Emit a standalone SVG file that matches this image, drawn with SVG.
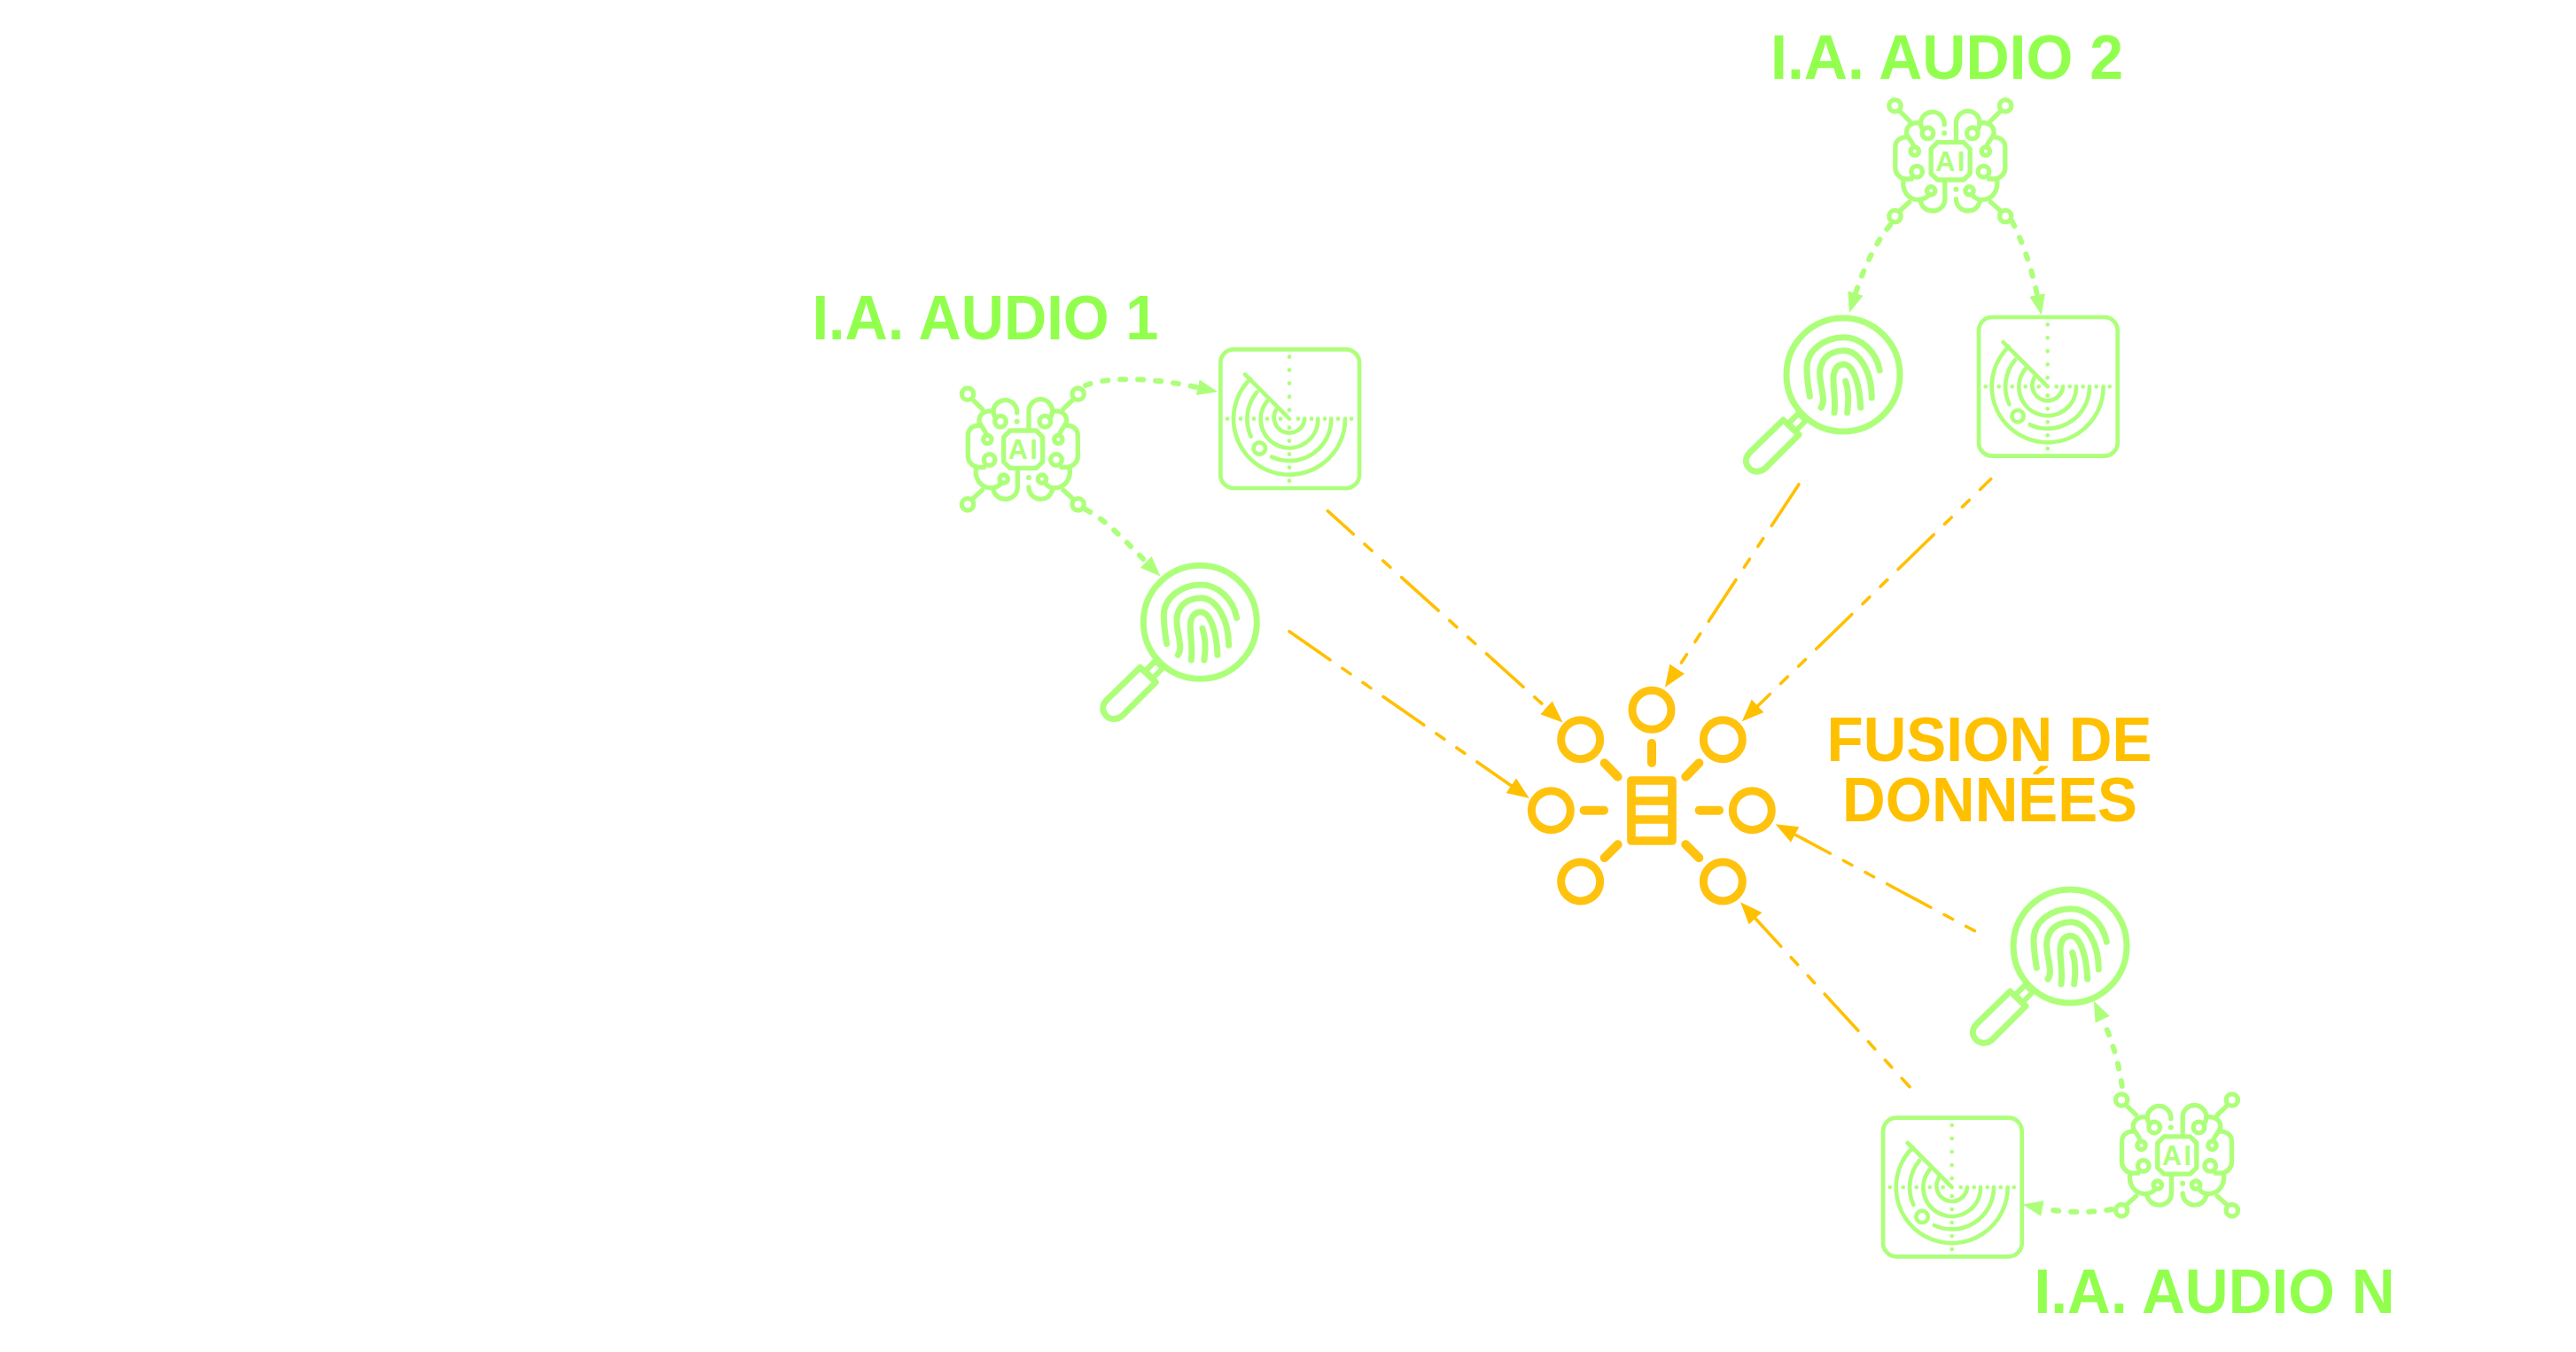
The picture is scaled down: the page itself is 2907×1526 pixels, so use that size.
<svg xmlns="http://www.w3.org/2000/svg" width="2907" height="1526" viewBox="0 0 2907 1526">
<style>
text{font-family:"Liberation Sans",Arial,sans-serif;font-weight:700}
.lg{font-size:70.5px;fill:#92FF4F;text-anchor:middle}
.lo{font-size:71px;fill:#FFC000;text-anchor:middle}
.ai{font-size:30.5px;fill:#ADFF7A;text-anchor:middle;letter-spacing:2.5px}
.ic{fill:none;stroke:#ADFF7A;stroke-linecap:round;stroke-linejoin:round}
.dot{fill:#ADFF7A}
.hub{fill:none;stroke:#FFC20E;stroke-linecap:round;stroke-linejoin:round}
.d{fill:none;stroke:#FFC000;stroke-width:3.6;stroke-linecap:round;stroke-dasharray:56 17 11 17 11 17;marker-end:url(#ao)}
.g{fill:none;stroke:#ADFF7A;stroke-width:6;stroke-linecap:round;stroke-dasharray:6 14;marker-end:url(#ag)}
</style>
<defs>
<marker id="ao" markerUnits="userSpaceOnUse" markerWidth="26" markerHeight="22" refX="0" refY="10" orient="auto"><path d="M0 0L25 10L0 20Z" fill="#FFC000"/></marker>
<marker id="ag" markerUnits="userSpaceOnUse" markerWidth="24" markerHeight="20" refX="0" refY="9" orient="auto"><path d="M0 0L23 9L0 18Z" fill="#ADFF7A"/></marker>
<g id="aiI" transform="scale(.3333) translate(-283 -261)">
<g class="ic" stroke-width="16">
<circle cx="96" cy="74" r="20"/><circle cx="470" cy="74" r="20"/><circle cx="96" cy="448" r="20"/><circle cx="470" cy="448" r="20"/>
<path d="M110 90L145 125M456 90L420 125M110 432L145 400M456 432L420 400"/>
<path d="M240 198H328L350 220V304L328 325H240L218 304V220Z"/>
<circle cx="207" cy="167" r="19"/><circle cx="358" cy="167" r="19"/>
<circle cx="163" cy="228" r="14"/><circle cx="403" cy="228" r="14"/>
<circle cx="170" cy="297" r="19"/><circle cx="396" cy="297" r="19"/>
<circle cx="218" cy="362" r="14"/><circle cx="348" cy="362" r="14"/>
<path d="M263 138A40 40 0 0 0 183 132C183 142 186 150 192 156"/>
<path d="M183 132C150 128 135 145 135 165C135 180 152 188 160 212"/>
<path d="M140 180C110 180 97 195 97 215V285C97 305 115 322 135 322H152"/>
<path d="M125 322C118 360 140 392 175 392C190 392 204 385 212 374"/>
<path d="M183 400C190 420 205 430 225 430A40 40 0 0 0 265 390V330"/>
<path d="M303 190V132A40 40 0 0 1 383 132C383 142 380 150 374 156"/>
<path d="M383 132C416 128 431 145 431 165C431 180 414 188 406 212"/>
<path d="M426 180C456 180 469 195 469 215V285C469 305 451 322 431 322H414"/>
<path d="M441 322C448 360 426 392 391 392C376 392 362 385 358 374"/>
<path d="M303 390A40 40 0 0 0 343 430C361 430 376 420 383 400"/>
</g>
<circle class="dot" cx="263" cy="167" r="9"/><circle class="dot" cx="303" cy="357" r="9"/>
</g>
<g id="radarI" transform="scale(.3333)">
<g class="ic" stroke-width="14">
<rect x="-233" y="-235" width="470" height="470" rx="45"/>
<path d="M0 0L-150 -150"/>
<path d="M-45 -30A52 52 0 1 0 52 0"/>
<path d="M-75 -60A97 97 0 1 0 97 0"/>
<path d="M-110 -90A142 142 0 0 0 -130 60"/>
<path d="M-60 129A142 142 0 0 0 142 0"/>
<path d="M-132 -135A189 189 0 1 0 189 0"/>
<circle cx="-101" cy="100" r="20"/>
</g>
<g class="dot">
<circle cx="-210" r="7"/><circle cx="-165" r="7"/><circle cx="-120" r="7"/><circle cx="-75" r="7"/><circle cx="-30" r="7"/><circle cx="30" r="7"/><circle cx="75" r="7"/><circle cx="120" r="7"/><circle cx="165" r="7"/><circle cx="210" r="7"/>
<circle cy="-210" r="7"/><circle cy="-165" r="7"/><circle cy="-120" r="7"/><circle cy="-75" r="7"/><circle cy="-30" r="7"/><circle cy="30" r="7"/><circle cy="75" r="7"/><circle cy="120" r="7"/><circle cy="165" r="7"/><circle cy="210" r="7"/>
</g>
</g>
<g id="fpI" transform="scale(.3333) translate(-343 -247)">
<path d="M206 388L162 432" fill="none" stroke="#ADFF7A" stroke-width="54"/>
<path d="M198 397L177 418" fill="none" stroke="#fff" stroke-width="16"/>
<g class="ic" stroke-width="21">
<circle cx="343" cy="247" r="192" fill="#fff"/>
<path d="M230 320C225 290 220 260 220 225C220 160 285 120 345 120C405 120 455 170 467 232"/>
<path d="M268 358C280 340 275 320 270 290C262 250 260 225 275 200C290 175 320 165 345 165C400 165 440 240 440 325"/>
<path d="M313 375C318 340 312 310 310 270C308 235 320 212 345 212C380 212 400 290 402 358"/>
<path d="M351 268C362 300 362 340 357 375"/>
<path d="M140 400L193 450L80 563C62 580 35 578 22 560C10 545 12 525 27 510Z" fill="#fff"/>
</g>
</g>
</defs>
<rect width="2907" height="1526" fill="#fff"/>
<g id="connectors">
<path class="d" stroke-dashoffset="17" d="M1498.3 576.7L1745 798.7"/>
<path class="d" d="M1455 712.7L1705.3 886.7"/>
<path class="d" d="M2030 546.7L1892.7 755"/>
<path class="d" stroke-dashoffset="39" d="M2246.7 540.7L1983.7 796.7"/>
<path class="d" stroke-dashoffset="73" d="M2228.3 1050.7L2025.7 942"/>
<path class="d" stroke-dashoffset="43" d="M2155 1226.7L1981 1036.7"/>
<path class="g" d="M1225 435C1250 425 1300 426 1351.7 437.3"/>
<path class="g" d="M1225 575C1250 588 1272 613 1293.3 634.3"/>
<path class="g" d="M2133 254C2118 272 2104 300 2094 331"/>
<path class="g" d="M2270.7 250C2282 272 2292 300 2299 333"/>
<path class="g" d="M2383 1365C2360 1369 2330 1369 2305 1364"/>
<path class="g" d="M2394.7 1226C2391 1200 2384 1175 2372.7 1150.7"/>
</g>
<g id="ia1">
<use href="#aiI" x="1154.3" y="507"/>
<text class="ai" x="1155.5" y="518">AI</text>
<text class="lg" x="1112" y="382.7" textLength="391" lengthAdjust="spacingAndGlyphs">I.A. AUDIO 1</text>
</g>
<g id="ia1-radar"><use href="#radarI" x="1455" y="472.7"/></g>
<g id="ia1-print"><use href="#fpI" x="1354.3" y="702.3"/></g>
<g id="ia2">
<use href="#aiI" x="2200.8" y="181.7"/>
<text class="ai" x="2202" y="192.7">AI</text>
<text class="lg" x="2197" y="88.5" textLength="398" lengthAdjust="spacingAndGlyphs">I.A. AUDIO 2</text>
</g>
<g id="ia2-print"><use href="#fpI" x="2080" y="423"/></g>
<g id="ia2-radar"><use href="#radarI" x="2310.7" y="436.3"/></g>
<g id="ian">
<use href="#aiI" x="2456.5" y="1303.8"/>
<text class="ai" x="2457.7" y="1314.8">AI</text>
<text class="lg" x="2499" y="1481.5" textLength="407" lengthAdjust="spacingAndGlyphs">I.A. AUDIO N</text>
</g>
<g id="ian-print"><use href="#fpI" x="2336" y="1068"/></g>
<g id="ian-radar"><use href="#radarI" x="2202.7" y="1340"/></g>
<g id="fusion">
<g transform="translate(1700 760) scale(.3333)">
<g class="hub" stroke-width="27">
<circle cx="492" cy="124" r="66"/><circle cx="251" cy="224" r="66"/><circle cx="733" cy="224" r="66"/><circle cx="151" cy="464" r="66"/><circle cx="832" cy="464" r="66"/><circle cx="251" cy="705" r="66"/><circle cx="733" cy="705" r="66"/>
<path stroke-width="30" d="M492 237V303M332 304L377 350M652 304L607 350M263 464H330M653 464H720M332 625L377 580M652 625L607 580"/>
<path stroke-width="29" d="M423 363H561V567H423ZM423 432H561M423 495H561"/>
</g>
</g>
<text class="lo" x="2245" y="859" textLength="367" lengthAdjust="spacingAndGlyphs">FUSION DE</text>
<text class="lo" x="2245.5" y="926.7" textLength="333" lengthAdjust="spacingAndGlyphs">DONNÉES</text>
</g>
</svg>
